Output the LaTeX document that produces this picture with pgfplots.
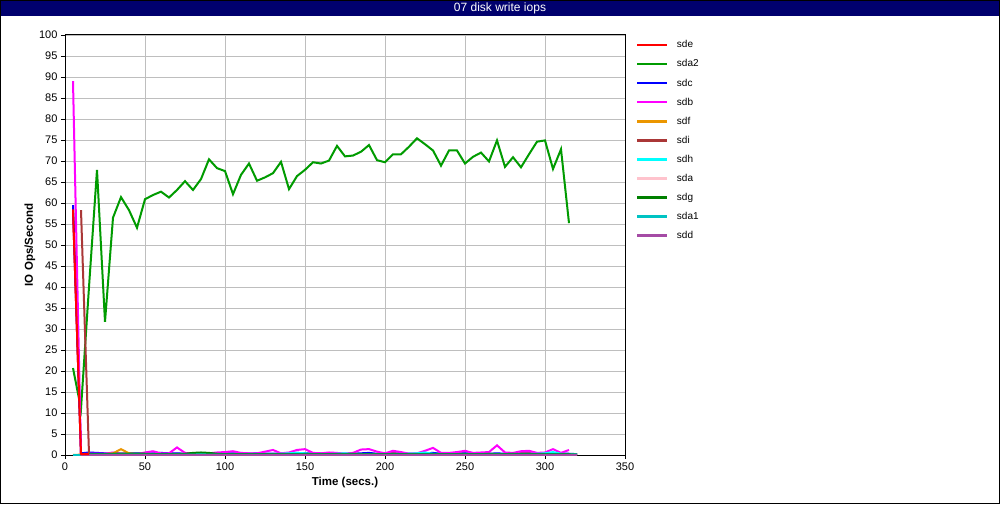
\documentclass[border=0pt]{standalone}
\usepackage{pgfplots}
\pgfplotsset{compat=1.18}
\usepackage{fontspec}
\setmainfont{Liberation Sans}
\definecolor{cSde}{RGB}{255,0,0}
\definecolor{cSdaTwo}{RGB}{0,155,0}
\definecolor{cSdc}{RGB}{0,0,255}
\definecolor{cSdb}{RGB}{255,0,255}
\definecolor{cSdf}{RGB}{235,150,0}
\definecolor{cSdi}{RGB}{170,55,55}
\definecolor{cSdh}{RGB}{0,255,255}
\definecolor{cSda}{RGB}{255,195,205}
\definecolor{cSdg}{RGB}{0,128,0}
\definecolor{cSdaOne}{RGB}{0,195,195}
\definecolor{cSdd}{RGB}{165,75,165}
\definecolor{navybar}{RGB}{0,0,110}
\definecolor{gridgrey}{RGB}{190,190,190}
\begin{document}
\begin{tikzpicture}[x=1pt,y=1pt]
\useasboundingbox (0,0) rectangle (1000,504);
\fill[white] (0,0) rectangle (1000,504);
\fill[navybar] (0,488) rectangle (1000,504);
\node[white,font=\fontsize{12}{12}\selectfont] at (500,496) {07 disk write iops};
\draw[black,line width=1pt] (0.5,0.5) rectangle (999.5,503.5);
\begin{axis}[
  at={(65pt,49pt)}, anchor=south west,
  scale only axis, width=560pt, height=420pt,
  xmin=0, xmax=350, ymin=0, ymax=100,
  xtick={0,50,...,350}, ytick={0,5,...,100},
  grid=major, major grid style={gridgrey, line width=0.8pt},
  axis line style={black, line width=1pt},
  tick align=outside, xtick pos=left, ytick pos=left,
  major tick length=4pt, tick style={black, line width=0.8pt},
  tick label style={font=\fontsize{11}{11}\selectfont},
  /pgf/number format/assume math mode=true,
  xlabel={\textbf{Time (secs.)}}, ylabel={\textbf{IO Ops/Second}},
  label style={font=\fontsize{11.5}{12}\selectfont},
  xlabel style={at={(axis description cs:0.5,0)}, anchor=center, yshift=-28pt},
  ylabel style={at={(axis description cs:-0.0625,0.5)}, anchor=center},
  legend style={at={(axis description cs:1,1)}, anchor=north west, xshift=11pt, yshift=-4pt,
    draw=none, fill=none, font=\fontsize{10}{10}\selectfont, row sep=7.3pt, inner sep=0pt,
    nodes={inner sep=1.5pt}},
  legend cell align=left,
  legend image code/.code={\draw[#1, line width=2.5pt] (0pt,0pt) -- (30pt,0pt); \path (37pt,0pt);},
  every axis plot/.append style={line width=2pt, mark=none},
  clip=true,
]
\addplot[cSde] coordinates {(5,58.5)(10,0.2)(15,0.2)(20,0.2)(25,0.3)(30,0.2)(35,0.2)(40,0.2)(45,0.2)(50,0.3)(55,0.2)(60,0.2)(65,0.2)(70,0.3)(75,0.2)(80,0.2)(85,0.2)(90,0.2)(95,0.2)(100,0.3)(105,0.2)(110,0.2)(115,0.3)(120,0.2)(125,0.2)(130,0.2)(135,0.2)(140,0.2)(145,0.2)(150,0.3)(155,0.4)(160,0.3)(165,0.2)(170,0.2)(175,0.2)(180,0.2)(185,0.2)(190,0.2)(195,0.2)(200,0.3)(205,0.4)(210,0.3)(215,0.2)(220,0.2)(225,0.2)(230,0.2)(235,0.3)(240,0.2)(245,0.4)(250,0.3)(255,0.2)(260,0.2)(265,0.2)(270,0.2)(275,0.2)(280,0.2)(285,0.4)(290,0.4)(295,0.2)(300,0.2)(305,0.2)(310,0.2)(315,0.2)(320,0.1)};
\addlegendentry{sde}
\addplot[cSdaTwo] coordinates {(5,20.7)(10,11)(15,40)(20,67.9)(25,31.7)(30,56.5)(35,61.4)(40,58.3)(45,54.1)(50,60.9)(55,61.9)(60,62.7)(65,61.3)(70,63.1)(75,65.2)(80,63.1)(85,65.7)(90,70.4)(95,68.3)(100,67.6)(105,62.1)(110,66.7)(115,69.4)(120,65.3)(125,66.1)(130,67.1)(135,69.8)(140,63.3)(145,66.4)(150,67.9)(155,69.7)(160,69.4)(165,70.1)(170,73.6)(175,71.1)(180,71.3)(185,72.2)(190,73.8)(195,70.2)(200,69.7)(205,71.6)(210,71.6)(215,73.4)(220,75.4)(225,74.0)(230,72.5)(235,68.9)(240,72.5)(245,72.5)(250,69.4)(255,71.0)(260,72.0)(265,69.9)(270,74.9)(275,68.6)(280,70.9)(285,68.5)(290,71.6)(295,74.6)(300,74.9)(305,68.1)(310,72.8)(315,55.2)};
\addlegendentry{sda2}
\addplot[cSdc] coordinates {(5,59.5)(10,0.4)(15,0.6)(20,0.5)(25,0.4)(30,0.4)(35,0.3)(40,0.4)(45,0.4)(50,0.3)(55,0.4)(60,0.5)(65,0.4)(70,0.4)(75,0.3)(80,0.3)(85,0.4)(90,0.3)(95,0.3)(100,0.4)(105,0.4)(110,0.3)(115,0.3)(120,0.4)(125,0.3)(130,0.3)(135,0.4)(140,0.4)(145,0.5)(150,0.4)(155,0.3)(160,0.3)(165,0.3)(170,0.4)(175,0.3)(180,0.3)(185,0.4)(190,0.5)(195,0.3)(200,0.3)(205,0.3)(210,0.4)(215,0.3)(220,0.3)(225,0.4)(230,0.5)(235,0.3)(240,0.3)(245,0.3)(250,0.4)(255,0.3)(260,0.3)(265,0.3)(270,0.4)(275,0.3)(280,0.3)(285,0.3)(290,0.3)(295,0.3)(300,0.3)(305,0.4)(310,0.3)(315,0.3)(320,0.2)};
\addlegendentry{sdc}
\addplot[cSdb] coordinates {(5,89)(10,0.2)(15,0.3)(20,0.3)(25,0.3)(30,0.6)(35,0.3)(40,0.3)(45,0.2)(50,0.6)(55,0.9)(60,0.4)(65,0.4)(70,1.8)(75,0.5)(80,0.3)(85,0.3)(90,0.4)(95,0.6)(100,0.7)(105,0.9)(110,0.5)(115,0.4)(120,0.4)(125,0.8)(130,1.2)(135,0.4)(140,0.6)(145,1.2)(150,1.4)(155,0.5)(160,0.4)(165,0.6)(170,0.5)(175,0.3)(180,0.5)(185,1.3)(190,1.4)(195,0.8)(200,0.4)(205,1.0)(210,0.7)(215,0.3)(220,0.4)(225,1.0)(230,1.7)(235,0.5)(240,0.5)(245,0.7)(250,1.0)(255,0.5)(260,0.6)(265,0.7)(270,2.3)(275,0.6)(280,0.5)(285,0.9)(290,1.0)(295,0.5)(300,0.6)(305,1.4)(310,0.5)(315,1.2)};
\addlegendentry{sdb}
\addplot[cSdf] coordinates {(5,0)(10,0.1)(15,0.1)(20,0.2)(25,0.2)(30,0.4)(35,1.4)(40,0.4)(45,0.2)(50,0.1)(55,0.2)(60,0.1)(65,0.1)(70,0.2)(75,0.1)(80,0.1)(85,0.1)(90,0.1)(95,0.2)(100,0.1)(105,0.1)(110,0.1)(115,0.2)(120,0.1)(125,0.1)(130,0.1)(135,0.1)(140,0.1)(145,0.1)(150,0.2)(155,0.1)(160,0.1)(165,0.1)(170,0.1)(175,0.1)(180,0.1)(185,0.1)(190,0.1)(195,0.2)(200,0.1)(205,0.1)(210,0.1)(215,0.1)(220,0.1)(225,0.1)(230,0.1)(235,0.1)(240,0.1)(245,0.1)(250,0.2)(255,0.1)(260,0.1)(265,0.1)(270,0.1)(275,0.1)(280,0.1)(285,0.2)(290,0.1)(295,0.1)(300,0.1)(305,0.1)(310,0.1)(315,0.1)(320,0.1)};
\addlegendentry{sdf}
\addplot[cSdi] coordinates {(10,58.3)(15,0.3)(20,0.1)(25,0.1)(30,0.1)(35,0.1)(40,0.1)(45,0.1)(50,0.1)(55,0.1)(60,0.1)(65,0.1)(70,0.1)(75,0.1)(80,0.1)(85,0.1)(90,0.1)(95,0.1)(100,0.1)(105,0.1)(110,0.1)(115,0.1)(120,0.1)(125,0.1)(130,0.1)(135,0.1)(140,0.1)(145,0.1)(150,0.1)(155,0.1)(160,0.1)(165,0.1)(170,0.1)(175,0.1)(180,0.1)(185,0.1)(190,0.1)(195,0.1)(200,0.1)(205,0.1)(210,0.1)(215,0.1)(220,0.1)(225,0.1)(230,0.1)(235,0.1)(240,0.1)(245,0.1)(250,0.1)(255,0.1)(260,0.1)(265,0.1)(270,0.1)(275,0.1)(280,0.1)(285,0.1)(290,0.1)(295,0.1)(300,0.1)(305,0.1)(310,0.1)(315,0.1)(320,0.1)};
\addlegendentry{sdi}
\addplot[cSdh] coordinates {(10,0.2)(15,0.2)(20,0.2)(25,0.2)(30,0.2)(35,0.2)(40,0.2)(45,0.2)(50,0.2)(55,0.2)(60,0.2)(65,0.2)(70,0.2)(75,0.2)(80,0.2)(85,0.2)(90,0.2)(95,0.2)(100,0.2)(105,0.2)(110,0.2)(115,0.2)(120,0.2)(125,0.2)(130,0.2)(135,0.3)(140,0.4)(145,0.5)(150,0.4)(155,0.2)(160,0.2)(165,0.2)(170,0.3)(175,0.4)(180,0.2)(185,0.2)(190,0.2)(195,0.2)(200,0.2)(205,0.2)(210,0.2)(215,0.3)(220,0.4)(225,0.6)(230,0.3)(235,0.2)(240,0.2)(245,0.2)(250,0.2)(255,0.2)(260,0.2)(265,0.2)(270,0.2)(275,0.2)(280,0.2)(285,0.2)(290,0.2)(295,0.3)(300,0.4)(305,0.7)(310,0.3)(315,0.2)(320,0.1)};
\addlegendentry{sdh}
\addplot[cSda] coordinates {(10,0.1)(20,0.1)(40,0.1)(60,0.1)(80,0.1)(100,0.1)(120,0.1)(140,0.1)(160,0.1)(180,0.1)(200,0.1)(220,0.1)(240,0.1)(260,0.1)(280,0.1)(300,0.1)(320,0.1)};
\addlegendentry{sda}
\addplot[cSdg] coordinates {(10,0.2)(15,0.2)(20,0.2)(25,0.2)(30,0.3)(35,0.3)(40,0.3)(45,0.3)(50,0.3)(55,0.2)(60,0.2)(65,0.2)(70,0.2)(75,0.3)(80,0.5)(85,0.6)(90,0.5)(95,0.3)(100,0.2)(105,0.2)(110,0.2)(115,0.2)(120,0.2)(125,0.2)(130,0.2)(135,0.2)(140,0.2)(145,0.2)(150,0.2)(155,0.2)(160,0.2)(165,0.2)(170,0.2)(175,0.2)(180,0.3)(185,0.2)(190,0.2)(195,0.2)(200,0.2)(205,0.2)(210,0.2)(215,0.2)(220,0.2)(225,0.2)(230,0.2)(235,0.2)(240,0.2)(245,0.2)(250,0.2)(255,0.2)(260,0.2)(265,0.3)(270,0.2)(275,0.2)(280,0.3)(285,0.2)(290,0.2)(295,0.2)(300,0.2)(305,0.2)(310,0.2)(315,0.2)(320,0.1)};
\addlegendentry{sdg}
\addplot[cSdaOne] coordinates {(5,0)(10,0)(15,0.1)(20,0.1)(40,0.1)(60,0.1)(80,0.1)(100,0.1)(120,0.1)(140,0.1)(160,0.1)(180,0.1)(200,0.1)(220,0.1)(240,0.1)(260,0.1)(280,0.1)(300,0.1)(320,0.1)};
\addlegendentry{sda1}
\addplot[cSdd] coordinates {(10,0.1)(20,0.1)(40,0.1)(60,0.1)(80,0.1)(100,0.1)(120,0.1)(140,0.1)(160,0.1)(180,0.1)(200,0.1)(220,0.1)(240,0.1)(260,0.1)(280,0.1)(300,0.1)(320,0.1)};
\addlegendentry{sdd}
\addplot[cSde, forget plot] coordinates {(5,58.5)(10,0.2)(15,0.2)};
\end{axis}
\end{tikzpicture}
\end{document}
